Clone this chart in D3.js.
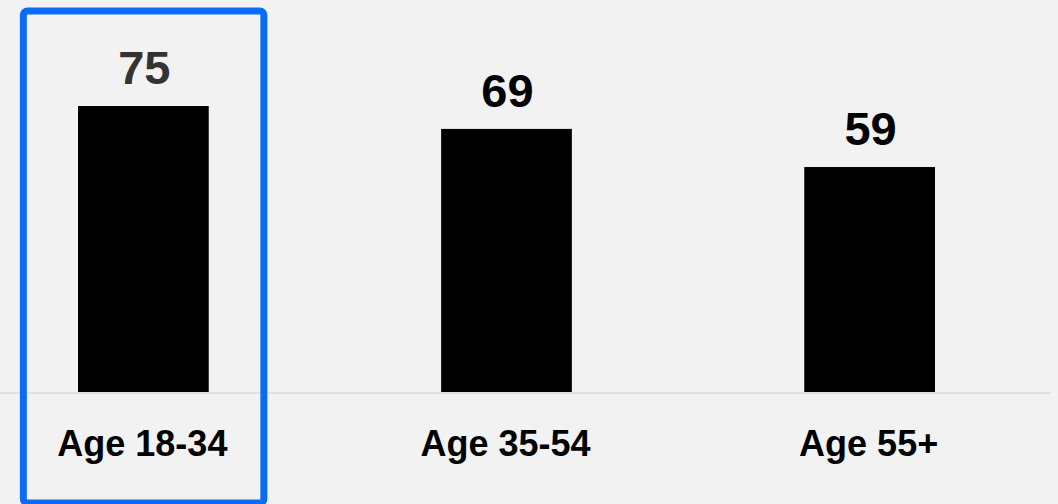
<!DOCTYPE html>
<html>
<head>
<meta charset="utf-8">
<script src="https://cdn.jsdelivr.net/npm/d3@7"></script>
<style>
  html, body { margin: 0; padding: 0; background: #f2f2f2; }
  svg { display: block; }
</style>
</head>
<body>
<svg id="chart"></svg>
<script>
var categories = ["Age 18-34", "Age 35-54", "Age 55+"];
var values = [75, 69, 59];
var highlighted = "Age 18-34";

draw();

function draw(){
  var width = 1058;
  var height = 504;
  var baseline = 392;

  var svg = d3.select("#chart")
              .attr("width", width)
              .attr("height", height);

  svg.append("rect")
     .attr("width", width)
     .attr("height", height)
     .attr("fill", "#f2f2f2");

  var x = d3.scaleBand()
            .domain(categories)
            .range([78, 935])
            .paddingInner(0.64)
            .paddingOuter(0);

  var y = d3.scaleLinear()
            .domain([0, 100])
            .range([baseline, 10.7]);

  // baseline rule
  svg.append("line")
     .attr("x1", 0)
     .attr("x2", 1051)
     .attr("y1", baseline + 1)
     .attr("y2", baseline + 1)
     .attr("stroke", "#dadada")
     .attr("stroke-width", 1.5);

  var data = categories.map(function(c, i){ return {cat: c, val: values[i]}; });

  svg.selectAll("rect.bar")
     .data(data)
     .enter()
     .append("rect")
     .attr("class", "bar")
     .attr("x", function(d){ return x(d.cat); })
     .attr("y", function(d){ return y(d.val); })
     .attr("width", x.bandwidth())
     .attr("height", function(d){ return y(0) - y(d.val); })
     .attr("fill", "#000");

  svg.selectAll("text.value")
     .data(data)
     .enter()
     .append("text")
     .attr("class", "value")
     .attr("x", function(d){ return x(d.cat) + x.bandwidth() / 2 + 1; })
     .attr("y", function(d){ return y(d.val) - 22; })
     .attr("text-anchor", "middle")
     .attr("font-family", "'Liberation Sans', Arial, sans-serif")
     .attr("font-weight", "bold")
     .attr("font-size", 47)
     .attr("fill", function(d){ return d.cat === highlighted ? "#333" : "#000"; })
     .text(function(d){ return d.val; });

  svg.selectAll("text.cat")
     .data(data)
     .enter()
     .append("text")
     .attr("class", "cat")
     .attr("x", function(d){ return x(d.cat) + x.bandwidth() / 2 - 1; })
     .attr("y", 456)
     .attr("text-anchor", "middle")
     .attr("font-family", "'Liberation Sans', Arial, sans-serif")
     .attr("font-weight", "bold")
     .attr("font-size", 36)
     .attr("fill", "#000")
     .text(function(d){ return d.cat; });

  // highlight frame round the selected group
  var hx = x(highlighted) + x.bandwidth() / 2;
  svg.append("rect")
     .attr("x", hx - 120)
     .attr("y", 11)
     .attr("width", 240.5)
     .attr("height", 492)
     .attr("rx", 4)
     .attr("fill", "none")
     .attr("stroke", "#0a6cf4")
     .attr("stroke-width", 7);
}
</script>
</body>
</html>
